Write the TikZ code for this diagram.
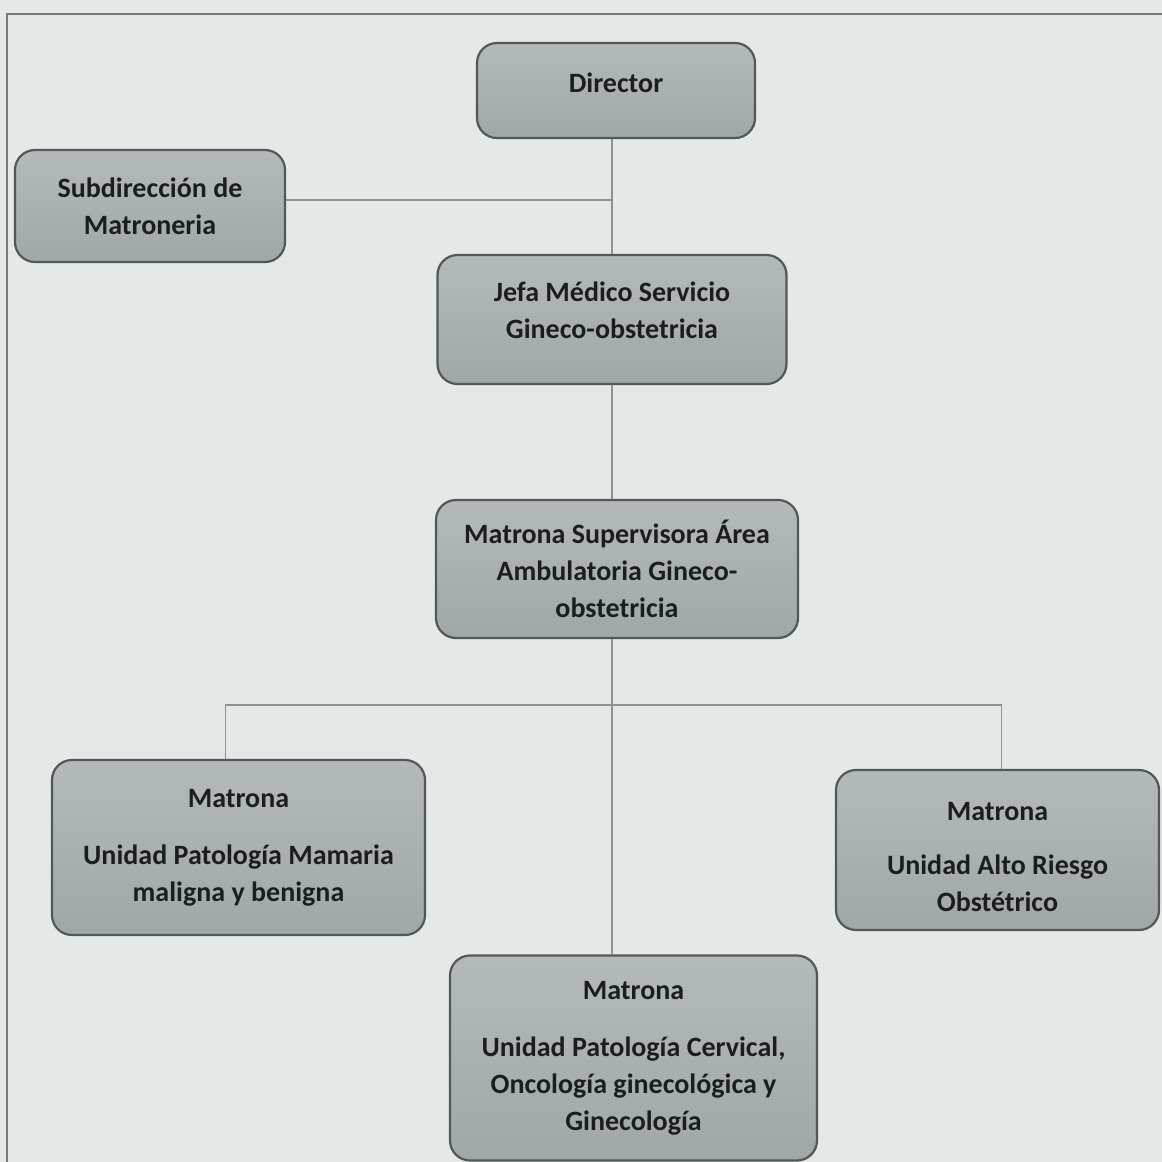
\documentclass[tikz,border=0pt]{standalone}
\usepackage{fontspec}
\setmainfont{Carlito}
\usepackage{tikz}
\usetikzlibrary{positioning, calc}
\definecolor{paper}{RGB}{228, 232, 231}
\definecolor{boxtop}{RGB}{180, 186, 188}
\definecolor{boxbot}{RGB}{160, 167, 169}
\definecolor{boxline}{RGB}{82, 88, 90}
\definecolor{wire}{RGB}{140, 146, 147}
\definecolor{ink}{RGB}{28, 30, 30}

\begin{document}
\begin{tikzpicture}[x=1pt, y=-1pt,
  unit/.style={draw=boxline, line width=2.2pt, rounded corners=20pt,
    top color=boxtop, bottom color=boxbot, align=center, text=ink,
    font=\fontsize{28}{37}\selectfont\bfseries, inner sep=0pt},
  wireline/.style={draw=wire, line width=1.1pt}]
\useasboundingbox (0,0) rectangle (1162,1162);
\fill[paper] (0,0) rectangle (1162,1162);
\draw[boxline!80, line width=1.3pt] (7,1162) -- (7,14) -- (1162,14);

\node[unit, minimum width=278pt, minimum height=95pt] (dir) at (616,90.5)
  {Director\rule[-16pt]{0pt}{16pt}};
\node[unit, minimum width=270pt, minimum height=112pt] (subdir) at (150,206)
  {Subdirección de\\Matroneria};
\node[unit, minimum width=349pt, minimum height=129pt] (jefa) at (612,319.5)
  {Jefa Médico Servicio\\Gineco-obstetricia\rule[-18pt]{0pt}{18pt}};
\node[unit, minimum width=362pt, minimum height=138pt] (sup) at (617,569)
  {Matrona Supervisora Área\\Ambulatoria Gineco-\\obstetricia};
\node[unit, minimum width=373pt, minimum height=175pt] (mam) at (238.5,847.5)
  {Matrona\\[20pt]Unidad Patología Mamaria\\maligna y benigna};
\node[unit, minimum width=323pt, minimum height=160pt] (alto) at (997.5,850)
  {\rule{0pt}{32pt}Matrona\\[17pt]Unidad Alto Riesgo\\Obstétrico};
\node[unit, minimum width=367pt, minimum height=205pt] (cerv) at (633.5,1058)
  {Matrona\\[20pt]Unidad Patología Cervical,\\Oncología ginecológica y\\Ginecología};
\coordinate (bus) at (612,705);

\draw[wireline] (dir.south -| jefa.north) -- (jefa.north);
\draw[wireline] ([yshift=6pt]subdir.east) -- ([yshift=6pt]subdir.east -| jefa.north);
\draw[wireline] (jefa.south) -- (jefa.south |- sup.north);
\draw[wireline] (sup.south -| bus) -- (cerv.north -| bus);
\draw[wireline] ([xshift=-13pt]mam.north) |- (bus) -| ([xshift=4pt]alto.north);
\end{tikzpicture}
\end{document}
